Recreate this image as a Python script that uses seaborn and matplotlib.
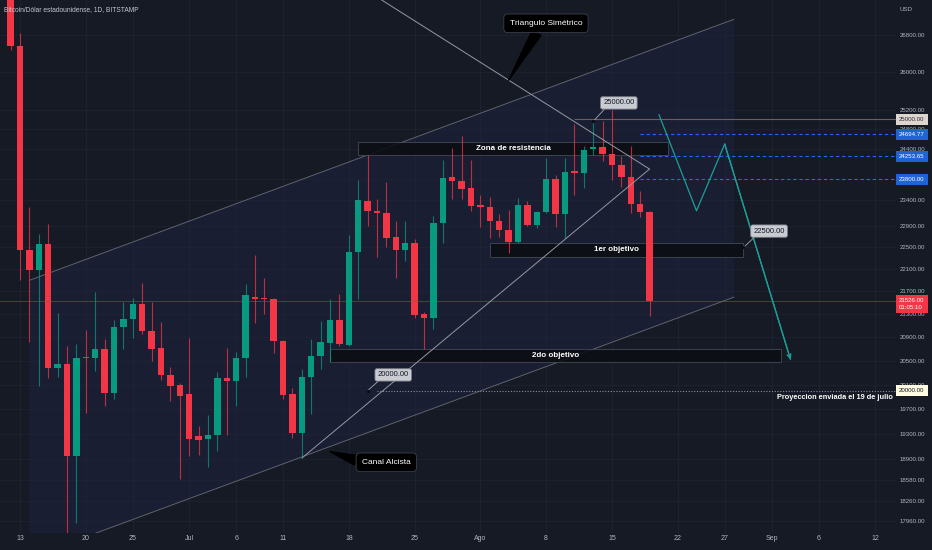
import pandas as pd
import seaborn as sns
import matplotlib
matplotlib.use("Agg")
import matplotlib.pyplot as plt
import matplotlib.dates as mdates
from matplotlib.patches import Rectangle, Polygon
from matplotlib.ticker import NullLocator

# daily candles BTC/USD (Bitstamp)
days = pd.date_range("2022-06-12", "2022-08-19", freq="D")
opens = [28400, 26560, 22450, 22090, 22560, 20380, 20440, 18950, 20560, 20540,
         20700, 19960, 21080, 21210, 21480, 21010, 20710, 20250, 20090,
         19950, 19260, 19220, 19290, 20200, 20160, 20540, 21610, 21570, 21560,
         20840, 19940, 19320, 20220, 20580, 20800, 21190, 20770, 22410, 23380,
         23190, 23140, 22690, 22460, 22580, 21310, 21240, 22960, 23850, 23770,
         23630,
         23290, 23270, 22990, 22820, 22610, 23300, 22920, 23160, 23800, 23130,
         23950, 23930, 24400, 24430, 24300, 24080, 23840, 23320, 23160]
highs = [28560, 26850, 23260, 22760, 22940, 21320, 20740, 20780, 21020, 21690,
         20860, 21190, 21520, 21580, 21860, 21510, 21170, 20400, 20130,
         20880, 19420, 19600, 20310, 20720, 20650, 21830, 22370, 21940, 21580,
         20850, 20040, 20360, 20870, 21180, 21560, 21650, 22740, 23780, 24280,
         23420, 23750, 22990, 22990, 22650, 21340, 23100, 24180, 24420, 24660,
         24180,
         23490, 23450, 23120, 23210, 23440, 23370, 23190, 24220, 23890, 24220,
         24910, 24450, 24960, 24960, 25200, 24250, 24460, 23580, 23190]
lows = [26480, 21910, 20820, 20080, 20210, 20230, 17600, 17940, 19630, 20330,
        19740, 19870, 20690, 20880, 20960, 20500, 20170, 19830, 18600,
        18950, 18970, 18780, 19030, 19280, 19740, 20230, 21150, 21300, 20620,
        19860, 19240, 18920, 19620, 20360, 20470, 20740, 20750, 21570, 22910,
        22330, 22510, 21940, 22260, 21240, 20690, 21040, 22580, 23410, 23420,
        23190,
        22880, 22670, 22690, 22390, 22580, 22900, 22870, 23140, 22890, 22680,
        23500, 23620, 24280, 24150, 23790, 23650, 23150, 23080, 21270]
closes = [26560, 22450, 22090, 22560, 20380, 20440, 18950, 20540, 20540, 20700,
          19960, 21080, 21210, 21480, 21000, 20690, 20250, 20080, 19910,
          19220, 19210, 19290, 20200, 20160, 20540, 21630, 21560, 21565, 20840,
          19930, 19310, 20230, 20580, 20820, 21190, 20780, 22420, 23390, 23190,
          23140, 22670, 22460, 22580, 21280, 21240, 22960, 23830, 23770, 23610,
          23290,
          23270, 22990, 22820, 22600, 23300, 22920, 23160, 23800, 23130, 23950,
          23930, 24380, 24430, 24300, 24080, 23840, 23320, 23170, 21526]

# drawings on the chart (date, price)
channel_dates = ["2022-06-14", "2022-08-28"]
channel_top = [21900, 27150]
channel_bottom = [17430, 21600]

triangle_top_dates = ["2022-07-19", "2022-08-19"]
triangle_top = [27920, 24000]
triangle_bottom_dates = ["2022-07-13", "2022-08-19"]
triangle_bottom = [18920, 24000]

zone_labels = ["Zona de resistencia", "1er objetivo", "2do objetivo"]
zone_start = ["2022-07-19", "2022-08-02", "2022-07-16"]
zone_end = ["2022-08-21", "2022-08-29", "2022-09-02"]
zone_low = [24280, 22320, 20480]
zone_high = [24550, 22590, 20690]

projection_dates = ["2022-08-20", "2022-08-24", "2022-08-27", "2022-09-03"]
projection_prices = [25100, 23190, 24500, 20520]

blue_levels = [24694.77, 24253.65, 23800.00]
blue_start = "2022-08-18"
top_level = 25000.00
top_start = "2022-08-11"
target_level = 20000.00
target_start = "2022-07-21"
last_price = 21526.00
countdown = "01:05:10"

price_ticks = [17960, 18260, 18580, 18900, 19300, 19700, 20100, 20500, 20900,
               21300, 21700, 22100, 22500, 22900, 23400, 23800, 24400, 24800,
               25200, 26000, 26800]
time_ticks = ["2022-06-13", "2022-06-20", "2022-06-25", "2022-07-01", "2022-07-06",
              "2022-07-11", "2022-07-18", "2022-07-25", "2022-08-01", "2022-08-08",
              "2022-08-15", "2022-08-22", "2022-08-27", "2022-09-01", "2022-09-06",
              "2022-09-12"]
time_labels = ["13", "20", "25", "Jul", "6", "11", "18", "25", "Ago", "8", "15",
               "22", "27", "Sep", "6", "12"]

BG = "#161a25"
GRID = "#1f2332"
TXT = "#b2b5be"
UP = "#089981"
DOWN = "#f23645"


def dnum(d):
    return mdates.date2num(pd.to_datetime(d))


sns.set_theme(style="dark", rc={
    "axes.facecolor": BG, "figure.facecolor": BG, "savefig.facecolor": BG,
    "grid.color": GRID, "grid.linewidth": 0.6, "axes.grid": True,
    "axes.edgecolor": BG, "axes.axisbelow": True,
})
plt.rcParams["font.family"] = ["Liberation Sans", "DejaVu Sans"]

fig = plt.figure(figsize=(9.32, 5.5), dpi=100)
ax = fig.add_axes([0, 17 / 550, 896 / 932, 533 / 550])
for s in ax.spines.values():
    s.set_visible(False)

x = mdates.date2num(days)
ref = dnum("2022-06-13")
ax.set_xlim(ref - 20 / 9.396, ref + 876 / 9.396)
ax.set_yscale("log")
ax.set_ylim(17788, 27583)
xmax = ax.get_xlim()[1]

# ascending channel background
cx = [dnum(d) for d in channel_dates]
ax.add_patch(Polygon([(cx[0], channel_bottom[0]), (cx[0], channel_top[0]),
                      (cx[1], channel_top[1]), (cx[1], channel_bottom[1])],
                     closed=True, fc="#1a1e33", ec="none", zorder=0.3))
ax.plot(cx, channel_top, color="#5f626d", lw=0.7, zorder=1.2)
ax.plot(cx, channel_bottom, color="#5f626d", lw=0.7, zorder=1.2)

# zones
for lab, s0, s1, lo, hi in zip(zone_labels, zone_start, zone_end, zone_low, zone_high):
    x0, x1 = dnum(s0), dnum(s1)
    ax.add_patch(Rectangle((x0, lo), x1 - x0, hi - lo, fc="#0c0e14", ec="#4c505b",
                           lw=0.6, alpha=0.88, zorder=1.5))
    ax.text((x0 + x1) / 2, (lo * hi) ** 0.5, lab, ha="center", va="center",
            fontsize=5.8, fontweight="bold", color="white", zorder=7)

# levels
ax.axhline(last_price, color=DOWN, lw=0.6, alpha=0.55, zorder=1.4)
ax.hlines(blue_levels, dnum(blue_start), xmax, colors="#2962ff", lw=0.8,
          linestyles=(0, (3, 2.5)), zorder=1.6)
ax.hlines(top_level, dnum(top_start), xmax, colors="#6b5f60", lw=0.8, zorder=1.6)
ax.hlines(target_level, dnum(target_start), xmax, colors="#8a8d96", lw=0.8,
          linestyles=(0, (1, 1.5)), zorder=1.6)

# candles
colors = [UP if c >= o else DOWN for o, c in zip(opens, closes)]
ax.vlines(x, lows, highs, colors=colors, lw=0.8, alpha=0.75, zorder=3)
bottoms = [min(o, c) for o, c in zip(opens, closes)]
heights = [max(abs(c - o), 0.0012 * c) for o, c in zip(opens, closes)]
ax.bar(x, heights, bottom=bottoms, width=0.68, color=colors, lw=0, zorder=3.5)

# symmetric triangle
ax.plot([dnum(d) for d in triangle_top_dates], triangle_top, color="#9598a1",
        lw=0.7, zorder=4)
ax.plot([dnum(d) for d in triangle_bottom_dates], triangle_bottom, color="#9598a1",
        lw=0.7, zorder=4)

# projected path
proj = pd.DataFrame({"x": [dnum(d) for d in projection_dates], "price": projection_prices})
sns.lineplot(data=proj, x="x", y="price", sort=False, estimator=None, ax=ax,
             color="#1e9e98", lw=0.9, zorder=4)
ax.annotate("", xy=(proj.x.iloc[-1], proj.price.iloc[-1]),
            xytext=(proj.x.iloc[-2], proj.price.iloc[-2]),
            arrowprops=dict(arrowstyle="->", color="#1e9e98", lw=0.9,
                            mutation_scale=7, shrinkA=0, shrinkB=0), zorder=4)
ax.set_xlabel("")
ax.set_ylabel("")


def price_note(xd, price, text, dx, dy):
    ax.annotate(text, xy=(dnum(xd), price), xytext=(dx, dy), textcoords="offset points",
                ha="center", va="center", fontsize=5.5, color="#131722",
                bbox=dict(boxstyle="round,pad=0.35,rounding_size=0.25", fc="#c9ccd3",
                          ec="#7c7f89", lw=0.6),
                arrowprops=dict(arrowstyle="-", color="#a3a6af", lw=0.6, shrinkA=0,
                                shrinkB=0, relpos=(0.12, 0.0)), zorder=7)
    ax.plot(dnum(xd), price, "o", ms=1.4, color="#0b0d12", zorder=7)


price_note("2022-08-13", 24960, "25000.00", 18.5, 13.3)
price_note("2022-07-20", 20000, "20000.00", 18.4, 11.3)
price_note("2022-08-29", 22500, "22500.00", 18.4, 11.8)


def callout(xd, price, text, dx, dy, relpos):
    ax.annotate(text, xy=(dnum(xd), price), xytext=(dx, dy), textcoords="offset points",
                ha="center", va="center", fontsize=6, color="white",
                bbox=dict(boxstyle="round,pad=0.7,rounding_size=0.5", fc="black",
                          ec="#3c404c", lw=0.6),
                arrowprops=dict(arrowstyle="wedge,tail_width=1.2", fc="black",
                                ec="black", relpos=relpos, shrinkA=0, shrinkB=0),
                zorder=8)


callout("2022-08-04", 25820, "Triangulo Simétrico", 26.9, 41, (0.42, 0.0))
callout("2022-07-16", 19020, "Canal Alcista", 40.5, -7.7, (0.0, 0.5))

ax.annotate("Proyeccion enviada el 19 de julio", xy=(1, target_level),
            xycoords=("axes fraction", "data"), xytext=(-2, -5.2),
            textcoords="offset points", ha="right", va="center", fontsize=5.3,
            fontweight="bold", color="white", zorder=8)

# axes ticks
ax.set_yticks(price_ticks, labels=[f"{p:.2f}" for p in price_ticks])
ax.yaxis.set_minor_locator(NullLocator())
ax.set_xticks([dnum(d) for d in time_ticks], labels=time_labels)
ax.xaxis.set_minor_locator(NullLocator())
ax.yaxis.tick_right()
ax.tick_params(axis="y", length=0, pad=2.9, labelsize=4.4, labelcolor=TXT)
ax.tick_params(axis="x", length=0, pad=1.5, labelsize=5, labelcolor=TXT)
ax.grid(True, color=GRID, lw=0.6)


def axis_tag(price, text, fc, tc, dy=0, va="center"):
    ax.annotate(text, xy=(1, price), xycoords=("axes fraction", "data"),
                xytext=(2.3, dy), textcoords="offset points", ha="left", va=va,
                fontsize=4.4, color=tc, linespacing=1.6,
                bbox=dict(boxstyle="square,pad=0.5", fc=fc, ec="none"),
                annotation_clip=False, zorder=9)


axis_tag(top_level, f"{top_level:.2f}", "#ded5ce", "#2a2e39")
for lv in blue_levels:
    axis_tag(lv, f"{lv:.2f}", "#1f63d6", "white")
axis_tag(target_level, f"{target_level:.2f}", "#fffbe0", "#131722")
axis_tag(last_price, f"{last_price:.2f}\n{countdown}", DOWN, "white", dy=2.6, va="top")

ax.annotate("USD", xy=(1, 1), xycoords="axes fraction", xytext=(2.3, -6.5),
            textcoords="offset points", ha="left", va="center", fontsize=4.4,
            color=TXT, annotation_clip=False)
ax.annotate("Bitcoin/Dólar estadounidense, 1D, BITSTAMP", xy=(0, 1),
            xycoords="axes fraction", xytext=(3, -7.2), textcoords="offset points",
            ha="left", va="center", fontsize=4.8, color="#c3c6ce", zorder=9)

fig.savefig("out.png", dpi=100, facecolor=BG)
